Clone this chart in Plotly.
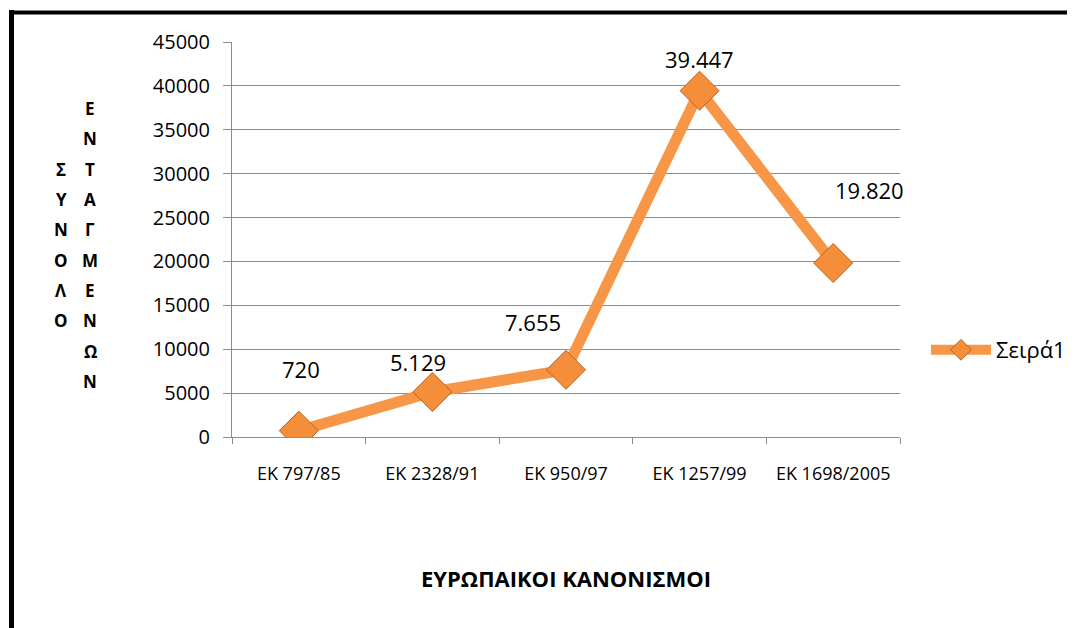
import plotly.graph_objects as go

categories = ["ΕΚ 797/85", "ΕΚ 2328/91", "ΕΚ 950/97", "ΕΚ 1257/99", "ΕΚ 1698/2005"]
values = [720, 5129, 7655, 39447, 19820]
value_labels = ["720", "5.129", "7.655", "39.447", "19.820"]
label_dx = [2, -14, -33, 0, 36]
label_dy = [62, 30, 48, 32, 73]
series_name = "Σειρά1"
x_title = "ΕΥΡΩΠΑΙΚΟΙ ΚΑΝΟΝΙΣΜΟΙ"
y_title_cols = ["ΣΥΝΟΛΟ", "ΕΝΤΑΓΜΕΝΩΝ"]
y_ticks = [0, 5000, 10000, 15000, 20000, 25000, 30000, 35000, 40000, 45000]

OFF = 8  # page body margin
W, H = 1075 - OFF, 628 - OFF
L, R, T, B = 232 - OFF, 900 - OFF, 42 - OFF, 437 - OFF
pw, ph = R - L, B - T

def px(x):
    return (x - OFF - L) / pw

def py(y):
    return (B - (y - OFF)) / ph

FONT = "Open Sans, Noto Sans, DejaVu Sans, sans-serif"
ORANGE = "#F79646"
GRID = "#8C8C8C"

fig = go.Figure()
fig.add_trace(go.Scatter(
    x=categories, y=values, mode="lines+markers", name=series_name,
    line=dict(color=ORANGE, width=11),
    marker=dict(symbol="diamond", size=30, color="#F58E3A",
                line=dict(color="#B8631E", width=1)),
))

annotations = []
for c, v, t, dx, dy in zip(categories, values, value_labels, label_dx, label_dy):
    annotations.append(dict(x=c, y=v, xref="x", yref="y", text=t, showarrow=False,
                            xshift=dx, yshift=dy, font=dict(family=FONT, size=22, color="#000")))

col_x = [61, 90]
center_y = 245
spacing = 30.3
for cx, word in zip(col_x, y_title_cols):
    n = len(word)
    for i, ch in enumerate(word):
        yy = center_y + (i - (n - 1) / 2) * spacing
        annotations.append(dict(x=px(cx), y=py(yy), xref="paper", yref="paper", text=ch,
                                showarrow=False, xanchor="center", yanchor="middle",
                                font=dict(family=FONT, size=17, color="#000", weight="bold")))

annotations.append(dict(x=px(566), y=py(578), xref="paper", yref="paper", text=x_title,
                        showarrow=False, xanchor="center", yanchor="middle",
                        font=dict(family=FONT, size=22, color="#000", weight="bold")))

shapes = [
    dict(type="line", xref="paper", yref="paper", x0=px(11.5), x1=px(11.5), y0=py(10), y1=py(640),
         line=dict(color="#000", width=5)),
    dict(type="line", xref="paper", yref="paper", x0=px(9), x1=px(1090), y0=py(12.5), y1=py(12.5),
         line=dict(color="#000", width=4)),
]

fig.update_layout(
    width=W, height=H,
    margin=dict(l=L, r=W - R, t=T, b=H - B, autoexpand=False),
    paper_bgcolor="white", plot_bgcolor="white",
    font=dict(family=FONT, color="#000"),
    showlegend=True,
    legend=dict(x=px(926), y=py(350), xanchor="left", yanchor="middle",
                font=dict(family=FONT, size=22, color="#000"), bgcolor="rgba(0,0,0,0)",
                itemwidth=60),
    annotations=annotations,
    shapes=shapes,
)
fig.update_xaxes(
    type="category", range=[-0.5, 4.5], showgrid=False, showline=True, linecolor=GRID, linewidth=1,
    ticks="outside", ticklen=6, tickcolor=GRID, tickson="boundaries",
    tickfont=dict(family=FONT, size=18, color="#000"), zeroline=False, ticklabelstandoff=20,
)
fig.update_yaxes(
    range=[0, 45000], tickvals=y_ticks, ticktext=[str(v) for v in y_ticks],
    showgrid=True, gridcolor=GRID, gridwidth=1, showline=True, linecolor=GRID, linewidth=1,
    ticks="outside", ticklen=8, tickcolor=GRID, zeroline=False,
    tickfont=dict(family=FONT, size=20, color="#000"), ticklabelstandoff=9,
)

fig.write_html("out.html")
